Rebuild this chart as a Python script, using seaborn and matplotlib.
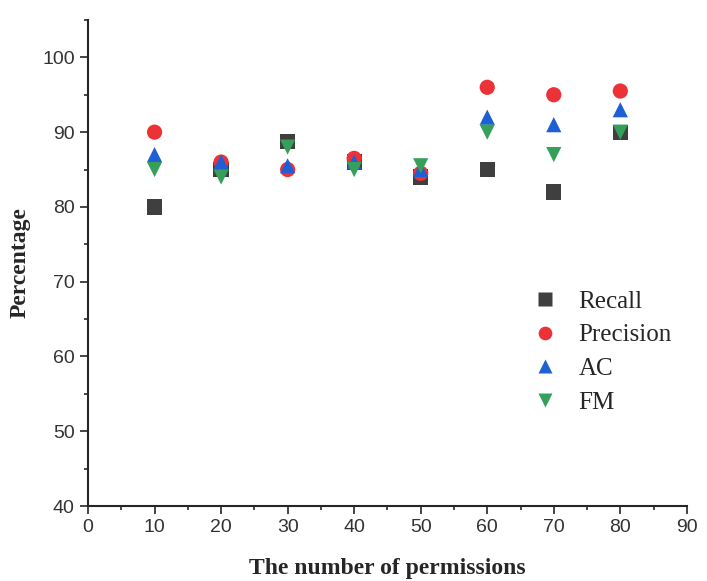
import pandas as pd
import seaborn as sns
import matplotlib.pyplot as plt
from matplotlib.ticker import MultipleLocator

# dati
permissions = [10, 20, 30, 40, 50, 60, 70, 80]
recall = [80, 85, 88.8, 86, 84, 85, 82, 90]
precision = [90, 86, 85, 86.5, 84.5, 96, 95, 95.5]
ac = [87, 86, 85.5, 86, 85, 92, 91, 93]
fm = [85, 84, 88, 85, 85.5, 90, 87, 90]

metrics = ['Recall', 'Precision', 'AC', 'FM']
colors = ['#3f3f3f', '#ec3237', '#1f5fd6', '#36a05a']
markers = ['s', 'o', '^', 'v']

df = pd.DataFrame({
    'x': permissions * 4,
    'y': recall + precision + ac + fm,
    'metric': [m for m in metrics for _ in permissions],
})

sns.set_style('ticks')
fig = plt.figure(figsize=(7.07, 5.81), dpi=100)
ax = fig.add_axes([0.1245, 0.129, 0.847, 0.8366])

sns.scatterplot(data=df, x='x', y='y', hue='metric', style='metric',
                hue_order=metrics, style_order=metrics,
                palette=colors, markers=markers, s=120, edgecolor='none', ax=ax)

ax.set_xlim(0, 90)
ax.set_ylim(40, 105)
ax.set_xticks(range(0, 91, 10))
ax.set_yticks(range(40, 101, 10))
ax.xaxis.set_minor_locator(MultipleLocator(5))
ax.yaxis.set_minor_locator(MultipleLocator(5))
ax.tick_params(which='major', length=6, width=1.2, labelsize=14, direction='out')
ax.tick_params(which='minor', length=3, width=1.2, direction='out')
for lbl in ax.get_xticklabels() + ax.get_yticklabels():
    lbl.set_family('Liberation Sans')
    lbl.set_color('#333333')
sns.despine(ax=ax)
ax.spines['left'].set_linewidth(1.5)
ax.spines['bottom'].set_linewidth(1.5)

ax.set_xlabel('The number of permissions', fontsize=17, fontweight='bold',
              family='Liberation Serif', labelpad=16)
ax.set_ylabel('Percentage', fontsize=17, fontweight='bold',
              family='Liberation Serif', labelpad=8)

leg = ax.legend(loc='center left', bbox_to_anchor=(0.683, 0.317), frameon=False,
                prop={'family': 'Liberation Serif', 'size': 18},
                handletextpad=0.35, labelspacing=0.45, markerscale=0.9)

fig.savefig('out.png', dpi=100)
